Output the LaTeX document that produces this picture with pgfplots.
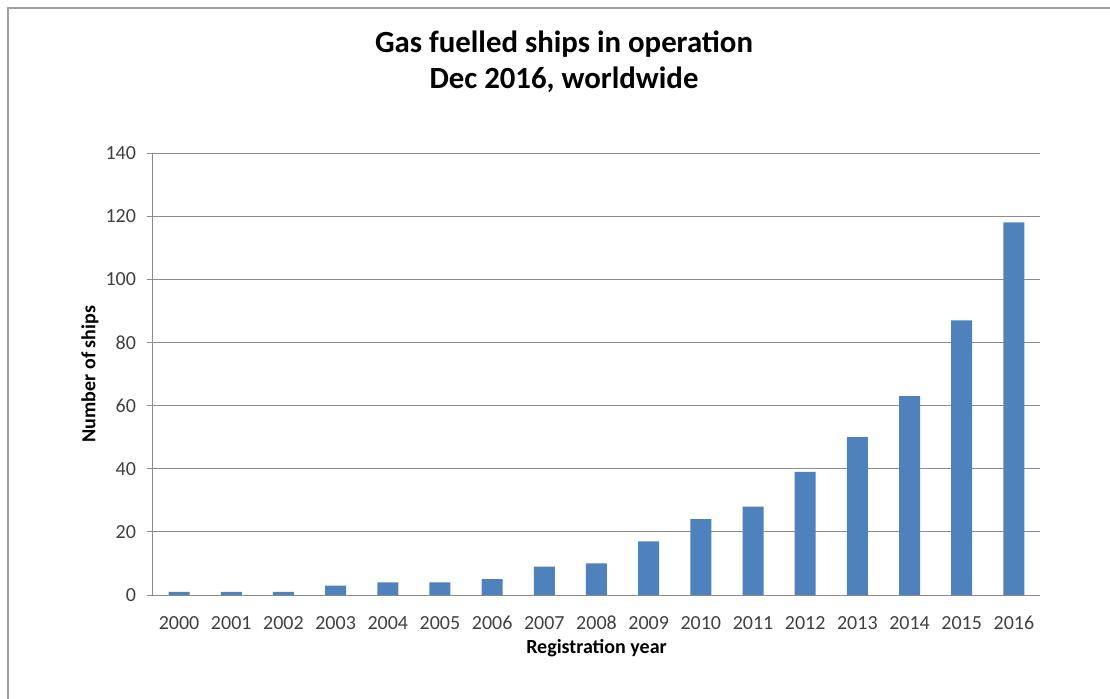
\documentclass[border=0pt]{standalone}
\usepackage{pgfplots}
\pgfplotsset{compat=1.18}
\usepackage{fontspec}
\setmainfont{Carlito}
\definecolor{barblue}{HTML}{4F81BD}
\definecolor{gridgray}{HTML}{8C8C8C}
\definecolor{framegray}{HTML}{A0A0A0}
\definecolor{ticktext}{HTML}{404040}
\begin{document}
\begin{tikzpicture}
\useasboundingbox (0,0) rectangle (555pt,349pt);
\draw[color=framegray, line width=0.8pt] (4pt,-2pt) -- (4pt,345pt) -- (557pt,345pt);
\node[font=\bfseries\fontsize{15.4}{18}\selectfont, anchor=base, inner sep=0pt] at (282pt,322.5pt) {Gas fuelled ships in operation};
\node[font=\bfseries\fontsize{15.4}{18}\selectfont, anchor=base, inner sep=0pt] at (282pt,305pt) {Dec 2016, worldwide};
\begin{axis}[
  at={(76.5pt,51.5pt)}, anchor=south west,
  scale only axis, width=443.5pt, height=221pt,
  xmin=-0.5, xmax=16.5, ymin=0, ymax=140,
  ybar, bar width=10.5pt, bar shift=0pt,
  xtick={0,...,16},
  xticklabels={2000,2001,2002,2003,2004,2005,2006,2007,2008,2009,2010,2011,2012,2013,2014,2015,2016},
  extra x ticks={-0.5,0.5,...,16.5}, extra x tick labels={},
  extra x tick style={major tick length=3pt, tick style={color=gridgray, line width=0.5pt}, grid=none},
  x tick style={draw=none},
  ytick={0,20,...,140},
  ymajorgrids, grid style={color=gridgray, line width=0.5pt},
  y tick style={color=gridgray, line width=0.5pt},
  tick align=outside, major tick length=3pt,
  axis x line*=bottom, axis y line*=left,
  axis line style={color=gridgray, line width=0.5pt, -},
  tick label style={font=\fontsize{10}{12}\selectfont, text=ticktext},
  xticklabel style={text height=1.6ex, text depth=0.2ex, yshift=-3pt},
  yticklabel style={xshift=-2pt},
  /pgf/number format/assume math mode=true,
  xlabel={Registration year}, ylabel={Number of ships},
  label style={font=\bfseries\fontsize{10}{12}\selectfont},
  xlabel style={at={(axis description cs:0.5,-0.12)}, anchor=center},
  ylabel style={at={(axis description cs:-0.071,0.5)}, anchor=center},
]
\addplot[fill=barblue, draw=none] coordinates {
(0,1) (1,1) (2,1) (3,3) (4,4) (5,4) (6,5) (7,9) (8,10) (9,17) (10,24) (11,28) (12,39) (13,50) (14,63) (15,87) (16,118)
};
\end{axis}
\end{tikzpicture}
\end{document}
